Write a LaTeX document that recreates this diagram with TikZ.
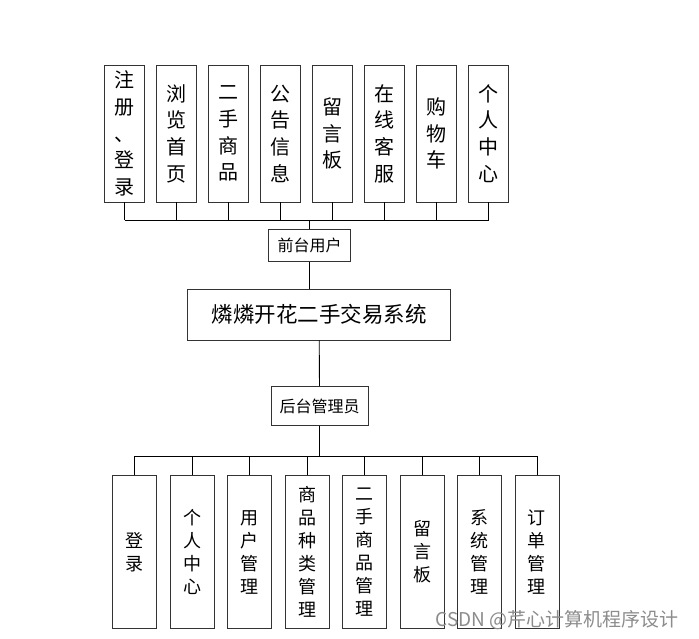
\documentclass[tikz,border=0pt]{standalone}
\usepackage{fontspec}
\newfontfamily\cjk{Noto Sans CJK SC}
\begin{document}
\begin{tikzpicture}[x=1pt,y=-1pt,line width=0.9pt,
	box/.style={draw=black!80,fill=white,inner sep=0pt,align=center},
	topbox/.style={box,minimum width=40,minimum height=137,
		font=\cjk\fontsize{20}{26.7}\selectfont},
	lowbox/.style={box,minimum width=44,minimum height=153,
		font=\cjk\fontsize{18}{23}\selectfont},
	rolebox/.style={box,font=\cjk\fontsize{16}{18}\selectfont}]
	\def \ytop{133.5}
	\def \ylow{552}
	\useasboundingbox (0,0) rectangle (699,639);
	% Các ô của người dùng phía trước
	\foreach \t [count=\i] in {注\\册\\、\\登\\录,浏\\览\\首\\页,二\\手\\商\\品,
		公\\告\\信\\息,留\\言\\板,在\\线\\客\\服,购\\物\\车,个\\人\\中\\心}
	\node[topbox] (t\i) at ({124.5+52*(\i-1)},\ytop) {\t};
	\node[rolebox,minimum width=82,minimum height=32] (user) at (309.7,245.5) {前台用户};
	\node[box,minimum width=263,minimum height=51,
		font=\cjk\fontsize{21.5}{24}\selectfont] (sys) at (319.2,314.5) {燐燐开花二手交易系统};
	\node[rolebox,minimum width=97,minimum height=39] (admin) at (319.5,406) {后台管理员};
	% Các ô của người quản trị
	\foreach \t [count=\i] in {登\\录,个\\人\\中\\心,用\\户\\管\\理,商\\品\\种\\类\\管\\理,
		二\\手\\商\\品\\管\\理,留\\言\\板,系\\统\\管\\理,订\\单\\管\\理}
	\node[lowbox] (b\i) at ({134.7+57.47*(\i-1)},\ylow) {\t};
	% Nối các ô
	\coordinate (tbus) at (309.5,220);
	\coordinate (bbus) at (319.5,456);
	\draw (t1.south |- tbus) -- (t8.south |- tbus);
	\foreach \i in {1,...,8}
	\draw (t\i.south) -- (t\i.south |- tbus);
	\draw (user.north) -- (user.north |- tbus);
	\draw (user.south) -- (user.south |- sys.north);
	\draw (sys.south) -- (admin.north);
	\draw (admin.south) -- (bbus);
	\draw (b1.north |- bbus) -- (b8.north |- bbus);
	\foreach \i in {1,...,8}
	\draw (b\i.north) -- (b\i.north |- bbus);
	% Chữ mờ
	\node[text=black!45,font=\cjk\fontsize{19}{21}\selectfont] (mark) at (557,620)
	{CSDN @芹心计算机程序设计};
\end{tikzpicture}
\end{document}
